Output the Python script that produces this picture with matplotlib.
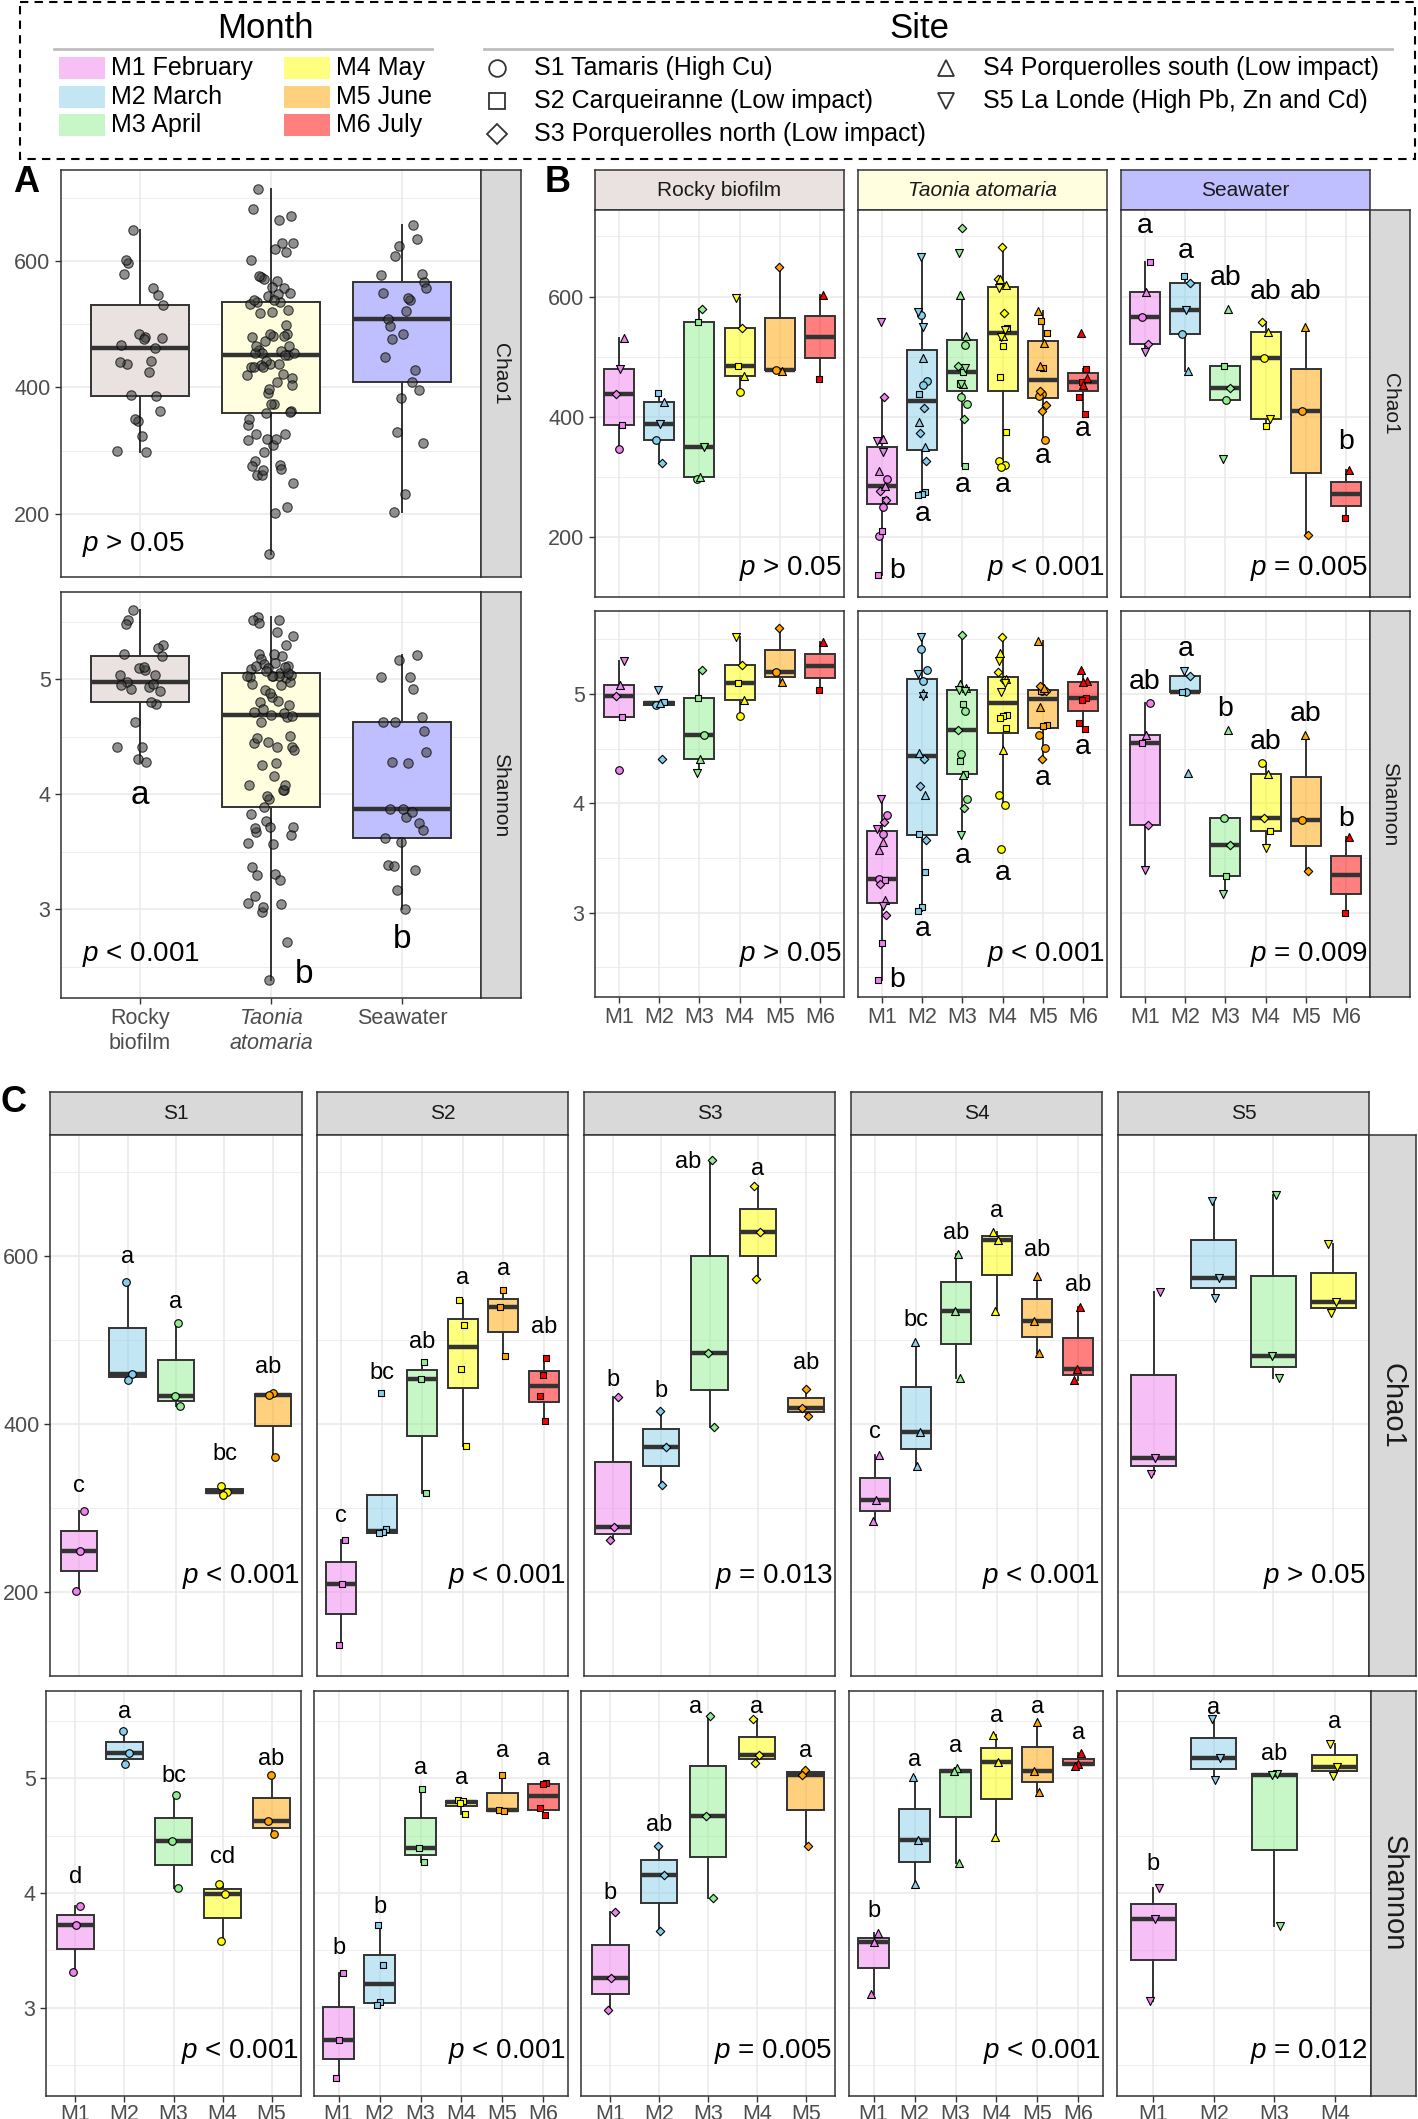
import numpy as np
import matplotlib
matplotlib.use("Agg")
import matplotlib.pyplot as plt
from matplotlib.patches import Rectangle
from matplotlib.lines import Line2D
from matplotlib.colors import to_rgba

plt.rcParams['font.family'] = ['Liberation Sans', 'DejaVu Sans']
plt.rcParams['mathtext.fontset'] = 'custom'
plt.rcParams['mathtext.it'] = 'Liberation Sans:italic'
plt.rcParams['mathtext.rm'] = 'Liberation Sans'

# ------------------------------------------------------------------ data
MONTHS = ["M1", "M2", "M3", "M4", "M5", "M6"]
MONTH_LABELS = ["M1 February", "M2 March", "M3 April", "M4 May", "M5 June", "M6 July"]
MONTH_COLORS = ["#EE82EE", "#87CEEB", "#90EE90", "#FFFF00", "#FFA500", "#FF0000"]
SITES = ["S1", "S2", "S3", "S4", "S5"]
SITE_LABELS = ["S1 Tamaris (High Cu)", "S2 Carqueiranne (Low impact)",
               "S3 Porquerolles north (Low impact)", "S4 Porquerolles south (Low impact)",
               "S5 La Londe (High Pb, Zn and Cd)"]
SITE_MARKERS = ["o", "s", "D", "^", "v"]
TYPES = ["Rocky biofilm", "Taonia atomaria", "Seawater"]
TYPE_COLORS = ["#EAE1E1", "#FFFFE0", "#BFBFFF"]
A_XLABELS = ["Rocky\nbiofilm", "Taonia\natomaria", "Seawater"]

# Rocky biofilm, per month M1..M6 (values, and site index 1..5 for shape)
rocky_chao1 = [[531, 479, 437, 386, 347], [440, 425, 388, 362, 323], [580, 557, 350, 299, 297],
               [597, 547, 484, 467, 441], [649, 478, 476], [602, 462]]
rocky_chao1_site = [[4, 5, 3, 2, 1], [2, 4, 5, 1, 3], [3, 2, 5, 4, 1], [5, 3, 2, 4, 1], [3, 1, 4], [4, 2]]
rocky_shan = [[5.30, 5.08, 4.98, 4.79, 4.31], [5.04, 4.93, 4.92, 4.90, 4.41], [5.22, 4.96, 4.63, 4.41, 4.28],
              [5.52, 5.27, 5.10, 4.95, 4.80], [5.60, 5.20, 5.11], [5.48, 5.04]]
rocky_shan_site = [[5, 4, 3, 2, 1], [5, 2, 4, 1, 3], [3, 2, 1, 4, 5], [5, 3, 2, 4, 1], [3, 1, 4], [4, 2]]

# Seawater, per month M1..M6
sea_chao1 = [[657, 608, 566, 521, 508], [635, 623, 578, 538, 476], [579, 485, 448, 428, 329],
             [557, 541, 497, 396, 384], [549, 409, 203], [312, 231]]
sea_chao1_site = [[2, 4, 1, 3, 5], [2, 3, 5, 1, 4], [4, 2, 3, 1, 5], [3, 4, 1, 5, 2], [4, 1, 3], [4, 2]]
sea_shan = [[4.92, 4.63, 4.55, 3.80, 3.39], [5.21, 5.17, 5.02, 5.02, 4.28], [4.67, 3.87, 3.62, 3.34, 3.17],
            [4.37, 4.27, 3.87, 3.75, 3.59], [4.63, 3.85, 3.38], [3.69, 3.00]]
sea_shan_site = [[1, 4, 2, 3, 5], [5, 3, 1, 2, 4], [4, 1, 3, 2, 5], [1, 4, 3, 2, 5], [4, 1, 3], [4, 2]]

# Taonia atomaria, per site (S1..S5), per sampled month
tao_site_months = [[1, 2, 3, 4, 5], [1, 2, 3, 4, 5, 6], [1, 2, 3, 4, 5], [1, 2, 3, 4, 5, 6], [1, 2, 3, 4]]
tao_chao1_S1 = [[297, 249, 201], [569, 459, 452], [520, 433, 421], [326, 319, 316], [437, 435, 361]]
tao_chao1_S2 = [[262, 210, 137], [437, 275, 271, 270], [474, 454, 318], [548, 518, 466, 374],
                [559, 539, 481], [479, 458, 433, 404]]
tao_chao1_S3 = [[432, 277, 262], [415, 373, 327], [714, 485, 397], [683, 629, 572], [442, 419, 409]]
tao_chao1_S4 = [[363, 309, 284], [498, 391, 350], [602, 535, 455], [629, 619, 535], [576, 522, 485],
                [539, 465, 452]]
tao_chao1_S5 = [[557, 359, 341], [665, 574, 550], [672, 481, 455], [614, 545, 532]]
tao_shan_S1 = [[3.89, 3.72, 3.31], [5.41, 5.22, 5.12], [4.85, 4.45, 4.04], [4.08, 3.99, 3.58], [5.03, 4.63, 4.51]]
tao_shan_S2 = [[3.30, 2.72, 2.39], [3.72, 3.37, 3.05, 3.02], [4.91, 4.39, 4.27], [4.81, 4.80, 4.78, 4.69],
               [5.03, 4.72, 4.71], [4.96, 4.95, 4.74, 4.68]]
tao_shan_S3 = [[3.83, 3.26, 2.98], [4.41, 4.16, 3.67], [5.54, 4.67, 3.96], [5.52, 5.20, 5.13], [5.07, 5.03, 4.41]]
tao_shan_S4 = [[3.65, 3.57, 3.12], [5.01, 4.46, 4.08], [5.09, 5.06, 4.26], [5.38, 5.14, 4.49],
               [5.49, 5.06, 4.88], [5.22, 5.12, 5.11]]
tao_shan_S5 = [[4.04, 3.77, 3.06], [5.52, 5.18, 4.98], [5.04, 5.03, 3.71], [5.30, 5.10, 5.02]]
tao_chao1 = [tao_chao1_S1, tao_chao1_S2, tao_chao1_S3, tao_chao1_S4, tao_chao1_S5]
tao_shan = [tao_shan_S1, tao_shan_S2, tao_shan_S3, tao_shan_S4, tao_shan_S5]

# annotations
A_shan_letters = ["a", "b", "b"]
A_shan_letter_y = [3.99, 2.43, 2.74]
A_shan_letter_dx = [0.0, 0.25, 0.0]
A_p = ["> 0.05", "< 0.001"]
A_p_y = [152, 2.61]

B_p_chao1 = ["> 0.05", "< 0.001", "= 0.005"]
B_p_shan = ["> 0.05", "< 0.001", "= 0.009"]
B_tao_chao1_letters = ["b", "a", "a", "a", "a", "a"]
B_tao_chao1_letter_y = [143, 238, 287, 287, 334, 380]
B_tao_shan_letters = ["b", "a", "a", "a", "a", "a"]
B_tao_shan_letter_y = [2.39, 2.85, 3.52, 3.36, 4.23, 4.52]
B_tao_letter_dx = [0.38, 0, 0, 0, 0, 0]
B_sea_chao1_letters = ["a", "a", "ab", "ab", "ab", "b"]
B_sea_chao1_letter_y = [718, 675, 631, 608, 608, 358]
B_sea_shan_letters = ["ab", "a", "b", "ab", "ab", "b"]
B_sea_shan_letter_y = [5.11, 5.41, 4.86, 4.56, 4.82, 3.86]

C_p_chao1 = ["< 0.001", "< 0.001", "= 0.013", "< 0.001", "> 0.05"]
C_p_shan = ["< 0.001", "< 0.001", "= 0.005", "< 0.001", "= 0.012"]
C_chao1_letters = [["c", "a", "a", "bc", "ab"], ["c", "bc", "ab", "a", "a", "ab"], ["b", "b", "ab", "a", "ab"],
                   ["c", "bc", "ab", "a", "ab", "ab"], []]
C_chao1_letter_y = [[326, 599, 545, 364, 468], [290, 461, 497, 574, 585, 515], [452, 439, 712, 704, 473],
                    [391, 524, 627, 653, 607, 565], []]
C_chao1_letter_dx = [[0, 0, 0, 0, -0.1], [0, 0, 0, 0, 0, 0], [0, 0, -0.45, 0, 0], [0, 0, 0, 0, 0, 0], []]
C_shan_letters = [["d", "a", "bc", "cd", "ab"], ["b", "b", "a", "a", "a", "a"], ["b", "ab", "a", "a", "a"],
                  ["b", "a", "a", "a", "a", "a"], ["b", "a", "ab", "a"]]
C_shan_letter_y = [[4.14, 5.58, 5.02, 4.31, 5.17], [3.52, 3.88, 5.09, 5.00, 5.24, 5.17],
                   [4.00, 4.59, 5.62, 5.62, 5.24], [3.84, 5.16, 5.28, 5.54, 5.62, 5.39],
                   [4.25, 5.61, 5.21, 5.49]]
C_shan_letter_dx = [[0] * 5, [0] * 6, [0, 0, -0.25, 0, 0], [0] * 6, [0] * 4]

# ------------------------------------------------------------------ style
W, H = 1418, 2119
fig = plt.figure(figsize=(W / 100, H / 100), dpi=100)
GRID = '#EBEBEB'
BORDER = '#333333'
TICKC = '#4D4D4D'
CHAO_LIM = (110, 744)
SHAN_LIM = (2.23, 5.76)
MSCALE = {'o': 1.0, 's': 0.8, 'D': 0.62, '^': 1.1, 'v': 1.1}


def px_axes(x0, y0, x1, y1):
    return fig.add_axes([x0 / W, 1 - y1 / H, (x1 - x0) / W, (y1 - y0) / H])


def style_panel(ax, ncat, metric, show_y, xlabels=None, xpad=3.5):
    ax.set_xlim(0.4, ncat + 0.6)
    if metric == 'Chao1':
        ax.set_ylim(*CHAO_LIM)
        ax.set_yticks([200, 400, 600])
        ax.set_yticks([100, 300, 500, 700], minor=True)
    else:
        ax.set_ylim(*SHAN_LIM)
        ax.set_yticks([3, 4, 5])
        ax.set_yticks([2.5, 3.5, 4.5, 5.5], minor=True)
    ax.set_xticks(range(1, ncat + 1))
    ax.set_axisbelow(True)
    ax.grid(which='major', color=GRID, lw=1.2)
    ax.grid(which='minor', axis='y', color=GRID, lw=0.6)
    for s in ax.spines.values():
        s.set_color(BORDER)
        s.set_linewidth(1.1)
    ax.tick_params(which='minor', length=0)
    ax.tick_params(which='major', color=BORDER, length=4, width=1.0, labelcolor=TICKC, labelsize=15.5)
    ax.tick_params(axis='x', pad=xpad)
    if not show_y:
        ax.tick_params(axis='y', length=0, labelleft=False)
    if xlabels is None:
        ax.tick_params(axis='x', length=0, labelbottom=False)
    else:
        ax.set_xticklabels(xlabels)


def strip(x0, y0, x1, y1, text, fill='#D9D9D9', rot=0, size=15, style='normal'):
    s = px_axes(x0, y0, x1, y1)
    s.set_facecolor(fill)
    s.set_xticks([])
    s.set_yticks([])
    for sp in s.spines.values():
        sp.set_color(BORDER)
        sp.set_linewidth(1.1)
    s.text(0.5, 0.5, text, rotation=rot, ha='center', va='center', fontsize=size,
           color='#1A1A1A', fontstyle=style, transform=s.transAxes)


def draw_boxes(ax, groups, facecolors, positions, widths=0.75):
    bp = ax.boxplot(groups, positions=positions, widths=widths, patch_artist=True,
                    showfliers=False, whis=1.5, manage_ticks=False, zorder=2)
    for patch, c in zip(bp['boxes'], facecolors):
        patch.set_facecolor(c)
        patch.set_edgecolor(BORDER)
        patch.set_linewidth(1.4)
    for w in bp['whiskers']:
        w.set_color(BORDER)
        w.set_linewidth(1.4)
    for c in bp['caps']:
        c.set_visible(False)
    for m in bp['medians']:
        m.set_color(BORDER)
        m.set_linewidth(3.2)
        m.set_solid_capstyle('butt')


def jit(n, w, p):
    return [(((i + 1) * 0.61803398875 + p * 0.37) % 1.0 * 2 - 1) * w for i in range(n)]


def scatter_sites(ax, xs, ys, sites, color, s_base=30):
    for k in range(5):
        idx = [i for i, st in enumerate(sites) if st == k + 1]
        if not idx:
            continue
        m = SITE_MARKERS[k]
        ax.scatter([xs[i] for i in idx], [ys[i] for i in idx], marker=m, s=s_base * MSCALE[m],
                   c=color, edgecolors='black', linewidths=0.8, zorder=4)


def month_panel(ax, months, values, sites, jw):
    pos = list(range(1, len(values) + 1))
    draw_boxes(ax, values, [to_rgba(MONTH_COLORS[m - 1], 0.5) for m in months], pos)
    for p, m, vals, sts in zip(pos, months, values, sites):
        offs = jit(len(vals), jw, p)
        scatter_sites(ax, [p + o for o in offs], vals, sts, MONTH_COLORS[m - 1])


def p_text(ax, x, y, s, ha, size=20):
    ax.text(x, y, r"$p$ " + s, ha=ha, va='center', fontsize=size, color='black', zorder=6)


def letters(ax, labels, ys, dxs, size):
    for i, (l, y) in enumerate(zip(labels, ys)):
        ax.text(i + 1 + dxs[i], y, l, ha='center', va='center', fontsize=size, color='black', zorder=6)


# ------------------------------------------------------------------ derived groupings
tao_month_vals = {"Chao1": [], "Shannon": []}
tao_month_sites = []
for m in range(1, 7):
    vc, vs, st = [], [], []
    for si in range(5):
        if m in tao_site_months[si]:
            j = tao_site_months[si].index(m)
            vc += tao_chao1[si][j]
            vs += tao_shan[si][j]
            st += [si + 1] * len(tao_chao1[si][j])
    tao_month_vals["Chao1"].append(vc)
    tao_month_vals["Shannon"].append(vs)
    tao_month_sites.append(st)

# ------------------------------------------------------------------ overlay (legend, labels)
ov = fig.add_axes([0, 0, 1, 1])
ov.set_xlim(0, W)
ov.set_ylim(H, 0)
ov.axis('off')
ov.add_patch(Rectangle((20, 2), 1395, 157, fill=False, ls=(0, (4, 3)), lw=1.5, ec='black'))
ov.text(265, 28, "Month", ha='center', va='center', fontsize=25)
ov.plot([54, 432], [49, 49], color='#BEBEBE', lw=2)
ov.text(919, 28, "Site", ha='center', va='center', fontsize=25)
ov.plot([484, 1392], [49, 49], color='#BEBEBE', lw=2)
rows_m = [68, 97, 125]
for i in range(6):
    col, row = divmod(i, 3)
    sx = 59 if col == 0 else 284
    ov.add_patch(Rectangle((sx, rows_m[row] - 11), 46, 22, fc=to_rgba(MONTH_COLORS[i], 0.5), ec='none'))
    ov.text(sx + 52, rows_m[row], MONTH_LABELS[i], ha='left', va='center', fontsize=18)
site_pos = [(497, 68), (497, 101), (497, 134), (946, 68), (946, 101)]
for i in range(5):
    mx, my = site_pos[i]
    ov.plot([mx], [my], marker=SITE_MARKERS[i], ms=12 if SITE_MARKERS[i] != 'D' else 10,
            mfc='white', mec='#333333', mew=1.3, ls='none')
    ov.text(mx + 37, my, SITE_LABELS[i], ha='left', va='center', fontsize=18)
ov.text(26, 182, "A", ha='center', va='center', fontsize=26, fontweight='bold')
ov.text(558, 182, "B", ha='center', va='center', fontsize=26, fontweight='bold')
ov.text(13, 1103, "C", ha='center', va='center', fontsize=26, fontweight='bold')

# ------------------------------------------------------------------ panel A
A_vals = {
    "Chao1": [sum(rocky_chao1, []), sum(tao_month_vals["Chao1"], []), sum(sea_chao1, [])],
    "Shannon": [sum(rocky_shan, []), sum(tao_month_vals["Shannon"], []), sum(sea_shan, [])],
}
for r, (metric, y0, y1) in enumerate([("Chao1", 170, 577), ("Shannon", 592, 998)]):
    ax = px_axes(61, y0, 481, y1)
    style_panel(ax, 3, metric, True, A_XLABELS if metric == "Shannon" else None)
    draw_boxes(ax, A_vals[metric], TYPE_COLORS, [1, 2, 3])
    for g in range(3):
        vals = A_vals[metric][g]
        offs = jit(len(vals), 0.18, g + 1)
        ax.scatter([g + 1 + o for o in offs], vals, s=46, c=[(0.25, 0.25, 0.25, 0.58)],
                   edgecolors=[(0, 0, 0, 0.7)], linewidths=0.8, zorder=4)
    if metric == "Shannon":
        ax.get_xticklabels()[1].set_fontstyle('italic')
        ax.tick_params(axis='x', labelsize=15.5)
        letters(ax, A_shan_letters, A_shan_letter_y, A_shan_letter_dx, 24)
    p_text(ax, 0.56, A_p_y[r], A_p[r], 'left')
    strip(481, y0, 521, y1, metric, rot=-90, size=15)

# ------------------------------------------------------------------ panel B
B_x = [(595, 844), (858, 1107), (1121, 1370)]
B_rows = [("Chao1", 210, 597), ("Shannon", 611, 997)]
for t in range(3):
    strip(B_x[t][0], 170, B_x[t][1], 210, TYPES[t], fill=TYPE_COLORS[t], size=15,
          style='italic' if t == 1 else 'normal')
for r, (metric, y0, y1) in enumerate(B_rows):
    for t in range(3):
        ax = px_axes(B_x[t][0], y0, B_x[t][1], y1)
        style_panel(ax, 6, metric, t == 0, MONTHS if metric == "Shannon" else None)
        if t == 0:
            vals = rocky_chao1 if metric == "Chao1" else rocky_shan
            sts = rocky_chao1_site if metric == "Chao1" else rocky_shan_site
        elif t == 1:
            vals = tao_month_vals[metric]
            sts = tao_month_sites
        else:
            vals = sea_chao1 if metric == "Chao1" else sea_shan
            sts = sea_chao1_site if metric == "Chao1" else sea_shan_site
        month_panel(ax, [1, 2, 3, 4, 5, 6], vals, sts, 0.12)
        if t == 1:
            if metric == "Chao1":
                letters(ax, B_tao_chao1_letters, B_tao_chao1_letter_y, B_tao_letter_dx, 20.5)
            else:
                letters(ax, B_tao_shan_letters, B_tao_shan_letter_y, B_tao_letter_dx, 20.5)
        if t == 2:
            if metric == "Chao1":
                letters(ax, B_sea_chao1_letters, B_sea_chao1_letter_y, [0] * 6, 20.5)
            else:
                letters(ax, B_sea_shan_letters, B_sea_shan_letter_y, [0] * 6, 20.5)
        ps = B_p_chao1[t] if metric == "Chao1" else B_p_shan[t]
        py = 148 if metric == "Chao1" else 2.62
        p_text(ax, 6.55, py, ps, 'right')
    strip(1370, y0, 1410, y1, metric, rot=-90, size=15)

# ------------------------------------------------------------------ panel C
C_x_chao = [(50, 302), (317, 568), (584, 835), (851, 1102), (1118, 1369)]
C_x_shan = [(46, 301), (314, 568), (581, 835), (849, 1103), (1117, 1371)]
for s in range(5):
    strip(C_x_chao[s][0], 1092, C_x_chao[s][1], 1135, SITES[s], size=15)
for r, (metric, y0, y1, xs) in enumerate([("Chao1", 1135, 1676, C_x_chao), ("Shannon", 1691, 2096, C_x_shan)]):
    for s in range(5):
        months = tao_site_months[s]
        n = len(months)
        ax = px_axes(xs[s][0], y0, xs[s][1], y1)
        style_panel(ax, n, metric, s == 0, [MONTHS[m - 1] for m in months] if metric == "Shannon" else None,
                    xpad=2.0)
        vals = tao_chao1[s] if metric == "Chao1" else tao_shan[s]
        sts = [[s + 1] * len(v) for v in vals]
        month_panel(ax, months, vals, sts, 0.1)
        if metric == "Chao1":
            letters(ax, C_chao1_letters[s], C_chao1_letter_y[s], C_chao1_letter_dx[s], 17)
            p_text(ax, n + 0.55, 218, C_p_chao1[s], 'right')
        else:
            letters(ax, C_shan_letters[s], C_shan_letter_y[s], C_shan_letter_dx[s], 17)
            p_text(ax, n + 0.55, 2.62, C_p_shan[s], 'right')
    x_last = xs[4][1]
    strip(x_last, y0, 1416, y1, metric, rot=-90, size=21)

fig.savefig("out.png", dpi=100)
